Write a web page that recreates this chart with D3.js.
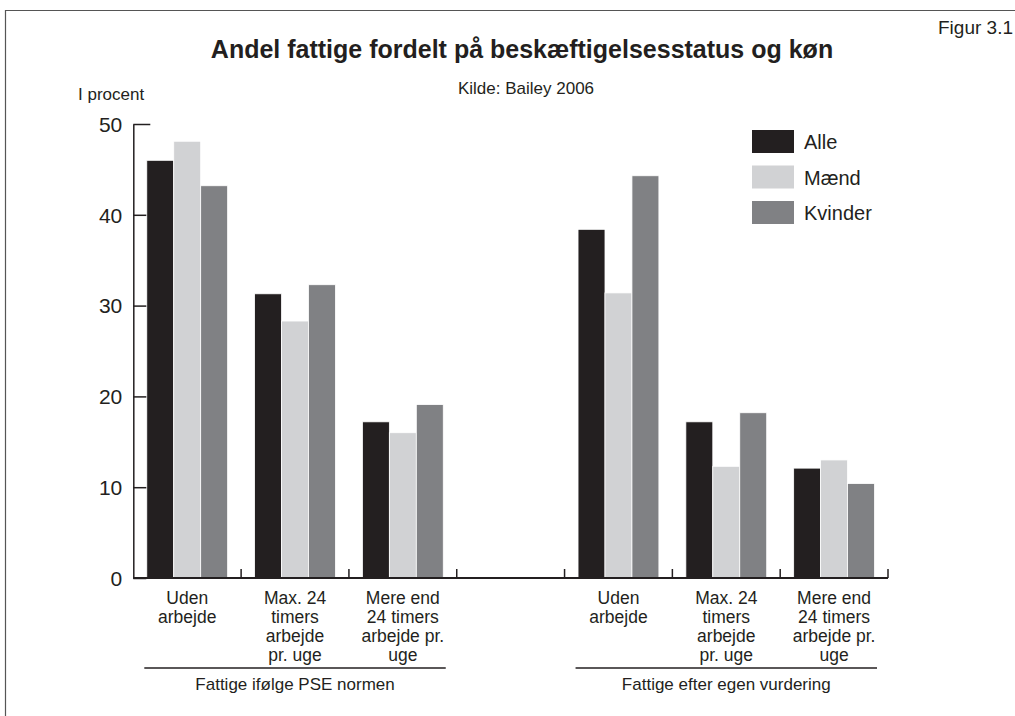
<!DOCTYPE html>
<html>
<head>
<meta charset="utf-8">
<script src="https://cdn.jsdelivr.net/npm/d3@7"></script>
<style>
body { margin:0; background:#fff; }
text { font-family:"Liberation Sans", Arial, sans-serif; fill:#231f20; }
</style>
</head>
<body>
<script>
// data
var series = ['Alle', 'Mænd', 'Kvinder'];
var colors = ['#231f20', '#d1d2d4', '#808184'];
var slots = ['pse1', 'pse2', 'pse3', 'gap', 'egen1', 'egen2', 'egen3'];
var catLabels = [
  ['Uden', 'arbejde'],
  ['Max. 24', 'timers', 'arbejde', 'pr. uge'],
  ['Mere end', '24 timers', 'arbejde pr.', 'uge'],
  [],
  ['Uden', 'arbejde'],
  ['Max. 24', 'timers', 'arbejde', 'pr. uge'],
  ['Mere end', '24 timers', 'arbejde pr.', 'uge']
];
var alle    = [46.0, 31.3, 17.2, null, 38.4, 17.2, 12.1];
var maend   = [48.1, 28.3, 16.0, null, 31.4, 12.3, 13.0];
var kvinder = [43.2, 32.3, 19.1, null, 44.3, 18.2, 10.4];
var groups = [
  {label:'Fattige ifølge PSE normen', from:'pse1', to:'pse3'},
  {label:'Fattige efter egen vurdering', from:'egen1', to:'egen3'}
];
var yTicks = [0, 10, 20, 30, 40, 50];

var values = [alle, maend, kvinder];

var params = {
  width:1015
, height:716
, left:133.3
, right:888
, top:124
, bottom:578
}

var svg = d3.select('body').append('svg')
  .attr('width', params.width)
  .attr('height', params.height);

// frame
svg.append('path')
  .attr('d', 'M5.5,716V10.5H1015')
  .attr('fill', 'none')
  .attr('stroke', '#555')
  .attr('stroke-width', 1.2);

var x0 = d3.scaleBand().domain(slots).range([params.left, params.right]);
var x1 = d3.scaleBand().domain(series).range([0, x0.bandwidth()]).paddingOuter(0.5);
var y = d3.scaleLinear().domain([0, 50]).range([params.bottom, params.top]);

// bars
series.forEach(function(s, i) {
  svg.append('g').selectAll('rect')
    .data(slots.map(function(k, j) { return {slot:k, v:values[i][j]}; })
      .filter(function(d) { return d.v != null; }))
    .enter().append('rect')
      .attr('x', function(d) { return x0(d.slot) + x1(s); })
      .attr('y', function(d) { return y(d.v); })
      .attr('width', x1.bandwidth())
      .attr('height', function(d) { return y(0) - y(d.v); })
      .attr('fill', colors[i])
      .attr('stroke', '#fff')
      .attr('stroke-width', 0.8);
});

// y axis
var yAxis = svg.append('g')
  .attr('transform', 'translate(' + params.left + ',0)')
  .call(d3.axisLeft(y).tickValues(yTicks).tickSizeInner(-13).tickSizeOuter(0).tickPadding(11));
yAxis.selectAll('text').style('font-size', '21px').attr('dy', '0.35em')
  .style('font-family', '"Liberation Sans", Arial, sans-serif').attr('fill', '#231f20');
yAxis.selectAll('line, path').attr('stroke', '#231f20').attr('stroke-width', 1.5);
yAxis.selectAll('.tick').filter(function(d) { return d === 50; }).select('line').attr('x2', 17);

// x axis
svg.append('line')
  .attr('x1', params.left).attr('x2', params.right)
  .attr('y1', y(0)).attr('y2', y(0))
  .attr('stroke', '#231f20').attr('stroke-width', 1.8);
svg.append('g').selectAll('line')
  .data(slots.slice(1).map(function(k) { return x0(k); }).concat([params.right]))
  .enter().append('line')
    .attr('x1', function(d) { return d; }).attr('x2', function(d) { return d; })
    .attr('y1', y(0)).attr('y2', y(0) - 9)
    .attr('stroke', '#231f20').attr('stroke-width', 1.5);

// category labels
var cat = svg.append('g').selectAll('text')
  .data(slots.map(function(k, j) { return {slot:k, lines:catLabels[j]}; }))
  .enter().append('text')
    .attr('text-anchor', 'middle')
    .style('font-size', '17.5px');
cat.selectAll('tspan')
  .data(function(d) { return d.lines.map(function(l) { return {slot:d.slot, l:l}; }); })
  .enter().append('tspan')
    .attr('x', function(d) { return x0(d.slot) + x0.bandwidth() / 2; })
    .attr('y', function(d, i) { return 604 + i * 19; })
    .text(function(d) { return d.l; });

// group brackets
groups.forEach(function(g) {
  var a = x0(g.from) + 11, b = x0(g.to) + x0.bandwidth() - 11;
  svg.append('line')
    .attr('x1', a).attr('x2', b).attr('y1', 668).attr('y2', 668)
    .attr('stroke', '#231f20').attr('stroke-width', 1.3);
  svg.append('text')
    .attr('x', (a + b) / 2).attr('y', 690)
    .attr('text-anchor', 'middle')
    .style('font-size', '17px')
    .text(g.label);
});

// legend
var legend = svg.append('g').attr('transform', 'translate(752,130)');
series.forEach(function(s, i) {
  legend.append('rect')
    .attr('x', 0).attr('y', i * 35.5)
    .attr('width', 42).attr('height', 23)
    .attr('fill', colors[i]);
  legend.append('text')
    .attr('x', 52).attr('y', i * 35.5 + 19)
    .style('font-size', '20px')
    .text(s);
});

// titles
svg.append('text')
  .attr('x', 522).attr('y', 58)
  .attr('text-anchor', 'middle')
  .style('font-size', '25px').style('font-weight', 'bold')
  .text('Andel fattige fordelt på beskæftigelsesstatus og køn');
svg.append('text')
  .attr('x', 526).attr('y', 94)
  .attr('text-anchor', 'middle')
  .style('font-size', '17px')
  .text('Kilde: Bailey 2006');
svg.append('text')
  .attr('x', 78).attr('y', 100)
  .style('font-size', '17px')
  .text('I procent');
svg.append('text')
  .attr('x', 1013).attr('y', 34)
  .attr('text-anchor', 'end')
  .style('font-size', '19px')
  .text('Figur 3.1');
</script>
</body>
</html>
